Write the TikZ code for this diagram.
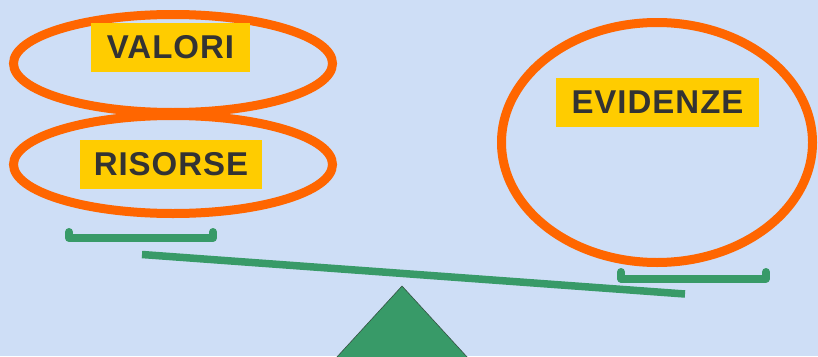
\documentclass[tikz,border=0pt]{standalone}
\usepackage{fontspec}
\setmainfont{Liberation Sans}
\usetikzlibrary{shapes.geometric}
\definecolor{bgblue}{RGB}{206,222,246}
\definecolor{ringorange}{RGB}{255,102,0}
\definecolor{tagyellow}{RGB}{255,204,0}
\definecolor{inkgray}{RGB}{51,51,51}
\definecolor{scalegreen}{RGB}{56,154,104}
\tikzset{
  ring/.style={ellipse, draw=ringorange, line width=9pt, inner sep=0pt},
  tag/.style={fill=tagyellow, text=inkgray, inner sep=0pt, font=\fontsize{33}{33}\bfseries\addfontfeatures{LetterSpace=3}},
  tray/.style={draw=scalegreen, line width=8pt, line join=round, line cap=round},
  beam/.style={draw=scalegreen, line width=7.5pt, line cap=butt},
  fulcrum/.style={fill=scalegreen, draw=inkgray!70!scalegreen, line width=0.6pt},
}
\begin{document}
\begin{tikzpicture}[x=1pt,y=-1pt]
\fill[bgblue] (0,0) rectangle (818,356);
\useasboundingbox (0,0) rectangle (818,356);
% rings
\node[ring, minimum width=319pt, minimum height=98pt] (valoriring) at (173,63.5) {};
\node[ring, minimum width=319pt, minimum height=98pt] (risorsering) at (173,164.5) {};
\node[ring, minimum width=311pt, minimum height=240pt] (evidenzering) at (657,142.5) {};
% labels
\node[tag, minimum width=159pt, minimum height=49pt] (valori) at (170.5,47.5) {VALORI};
\node[tag, minimum width=182pt, minimum height=49pt] (risorse) at (171,164.5) {RISORSE};
\node[tag, minimum width=203pt, minimum height=49pt] (evidenze) at (657.5,102.5) {EVIDENZE};
% trays
\draw[tray] (69,232) -- (69,238) -- (213,238) -- (213,232);
\draw[tray] (621,272) -- (621,278.5) -- (766,278.5) -- (766,272);
% beam
\draw[beam] (142,254.5) -- (685,294);
% fulcrum
\draw[fulcrum] (402,286) -- (468,358) -- (336,358) -- cycle;
\end{tikzpicture}
\end{document}
